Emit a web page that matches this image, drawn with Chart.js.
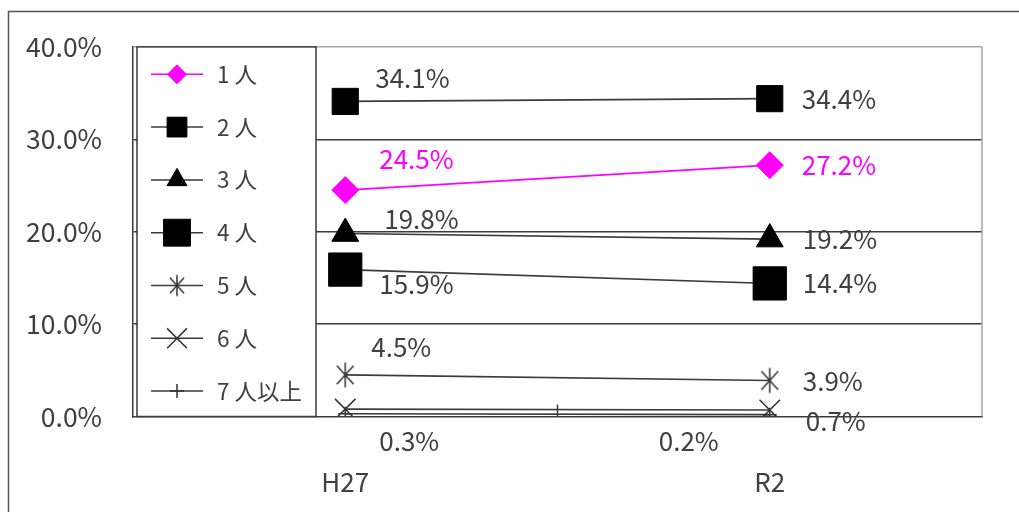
<!DOCTYPE html>
<html><head><meta charset="utf-8">
<script src="https://cdn.jsdelivr.net/npm/chart.js@4.4.1/dist/chart.umd.min.js"></script>
<style>html,body{margin:0;padding:0;background:#fff;overflow:hidden}#wrap{width:1019px;height:512px;position:relative}</style>
</head><body><div id="wrap"><canvas id="c"></canvas></div>
<script>
// ---- data ----
const categories = ['H27', 'R2'];
const seriesNames = ['1 人', '2 人', '3 人', '4 人', '5 人', '6 人', '7 人以上'];
const s1 = [24.5, 27.2];
const s2 = [34.1, 34.4];
const s3 = [19.8, 19.2];
const s4 = [15.9, 14.4];
const s5 = [4.5, 3.9];
const s6 = [0.8, 0.7];
const s7 = [0.3, 0.2];
const yMin = 0, yMax = 40, yStep = 10;

// ---- styles ----
const FONT = "'Noto Sans CJK JP','Noto Sans',sans-serif";
const TXT = '#404040';
const LINE = '#3a3a3a';
const MAG = '#FF00FF';
// label offsets (dx, dy) relative to each point; null = hidden
const labelOffsets = [
  [[34, -31], [32, 0]],
  [[30, -23], [32, 0]],
  [[39, -14], [33, 0]],
  [[34, 15], [33, 0]],
  [[26, -28], [33, 1]],
  [null, [36, 11]],
  [[34, 27], [-111, 26]]
];

function makeAsterisk(r, color, lw) {
  const s = Math.ceil(2 * r + lw * 2);
  const c = document.createElement('canvas');
  c.width = s; c.height = s;
  const g = c.getContext('2d');
  g.strokeStyle = color; g.lineWidth = lw;
  const cx = s / 2, cy = s / 2;
  const a = 42 * Math.PI / 180, dx = Math.sin(a) * r, dy = Math.cos(a) * r;
  g.beginPath();
  g.moveTo(cx, cy - r); g.lineTo(cx, cy + r);
  g.moveTo(cx - dx, cy - dy); g.lineTo(cx + dx, cy + dy);
  g.moveTo(cx + dx, cy - dy); g.lineTo(cx - dx, cy + dy);
  g.stroke();
  return c;
}
const asteriskBig = makeAsterisk(12.5, '#333', 1.5);
const asteriskSmall = makeAsterisk(10.5, '#333', 1.5);

const values = [s1, s2, s3, s4, s5, s6, s7];
const styles = [
  { color: MAG, fill: MAG, pointStyle: 'rectRot', r: 13.5, lr: 9.5, bw: 1 },
  { color: LINE, fill: '#000', pointStyle: 'rect', r: 18.5, lr: 14, bw: 1 },
  { color: LINE, fill: '#000', pointStyle: 'triangle', r: 15.5, lr: 11.5, bw: 1 },
  { color: LINE, fill: '#000', pointStyle: 'rect', r: 23.5, lr: 19, bw: 1 },
  { color: LINE, fill: '#333', pointStyle: asteriskBig, legendStyle: asteriskSmall, r: 12.5, lr: 10, bw: 1.5 },
  { color: LINE, fill: '#333', pointStyle: 'crossRot', r: 14.5, lr: 14, bw: 1.5 },
  { color: LINE, fill: '#333', pointStyle: 'cross', r: 7, lr: 7, bw: 1.5 }
];
const labelColors = [MAG, TXT, TXT, TXT, TXT, TXT, TXT];

const datasets = values.map((v, i) => ({
  label: seriesNames[i],
  data: v,
  borderColor: styles[i].color,
  backgroundColor: styles[i].fill,
  borderWidth: 1.6,
  pointStyle: styles[i].pointStyle,
  pointRadius: styles[i].r,
  pointBorderColor: styles[i].fill,
  pointBackgroundColor: styles[i].fill,
  pointBorderWidth: styles[i].bw,
  tension: 0
}));

const framePlugin = {
  id: 'frame',
  beforeDraw(chart) {
    const ctx = chart.ctx;
    ctx.save();
    ctx.strokeStyle = '#555'; ctx.lineWidth = 1.5;
    ctx.beginPath();
    ctx.moveTo(8.5, chart.height + 5); ctx.lineTo(8.5, 11.5); ctx.lineTo(chart.width + 5, 11.5);
    ctx.stroke();
    ctx.restore();
  },
  beforeDatasetsDraw(chart) {
    const { ctx, chartArea: a } = chart;
    ctx.save();
    ctx.strokeStyle = '#a6a6a6'; ctx.lineWidth = 1.5;
    ctx.beginPath(); ctx.moveTo(a.right, a.top); ctx.lineTo(a.right, a.bottom); ctx.stroke();
    // middle tick on category axis (inside)
    const xs = chart.scales.x;
    const mid = (xs.getPixelForValue(0) + xs.getPixelForValue(1)) / 2;
    ctx.strokeStyle = LINE;
    ctx.beginPath(); ctx.moveTo(mid, a.bottom); ctx.lineTo(mid, a.bottom - 12); ctx.stroke();
    ctx.restore();
  }
};

const labelPlugin = {
  id: 'labels',
  afterDatasetsDraw(chart) {
    const ctx = chart.ctx;
    ctx.save();
    ctx.font = '26px ' + FONT;
    ctx.textAlign = 'left'; ctx.textBaseline = 'middle';
    chart.data.datasets.forEach((ds, i) => {
      const meta = chart.getDatasetMeta(i);
      meta.data.forEach((pt, j) => {
        const off = labelOffsets[i][j];
        if (!off) return;
        ctx.fillStyle = labelColors[i];
        ctx.fillText(ds.data[j].toFixed(1) + '%', pt.x + off[0], pt.y + off[1]);
      });
    });
    ctx.restore();
  }
};

const legendPlugin = {
  id: 'boxLegend',
  afterDraw(chart) {
    const { ctx, chartArea: a } = chart;
    const left = a.left + 4, right = 316, top = a.top, bottom = a.bottom;
    ctx.save();
    ctx.fillStyle = '#fff';
    ctx.fillRect(left, top, right - left, bottom - top);
    ctx.strokeStyle = LINE; ctx.lineWidth = 1.5;
    ctx.strokeRect(left, top, right - left, bottom - top);
    const rowH = (bottom - top) / 7;
    chart.data.datasets.forEach((ds, i) => {
      const y = top + rowH * (i + 0.5) + 1;
      ctx.strokeStyle = ds.borderColor; ctx.lineWidth = 1.5;
      ctx.beginPath(); ctx.moveTo(151, y); ctx.lineTo(203, y); ctx.stroke();
      ctx.fillStyle = styles[i].fill; ctx.strokeStyle = styles[i].fill;
      ctx.lineWidth = styles[i].bw;
      Chart.helpers.drawPoint(ctx, {
        pointStyle: styles[i].legendStyle || styles[i].pointStyle,
        radius: styles[i].lr, borderWidth: styles[i].bw, rotation: 0
      }, 177, y);
      ctx.fillStyle = TXT;
      ctx.font = '22.5px ' + FONT;
      ctx.textAlign = 'left'; ctx.textBaseline = 'middle';
      ctx.fillText(ds.label, 217, y);
    });
    ctx.restore();
  }
};

new Chart(document.getElementById('c'), {
  type: 'line',
  data: { labels: categories, datasets },
  plugins: [framePlugin, labelPlugin, legendPlugin],
  options: {
    responsive: true, maintainAspectRatio: false, animation: false,
    layout: { padding: { top: 45, right: 37, left: 0, bottom: 0 } },
    plugins: { legend: { display: false }, tooltip: { enabled: false } },
    scales: {
      x: {
        offset: true,
        grid: { display: false, drawTicks: false },
        border: { display: true, color: LINE, width: 1.5 },
        ticks: { color: TXT, font: { size: 26, family: FONT }, padding: 50 },
        afterFit(s) { s.height = 95.5; }
      },
      y: {
        min: yMin, max: yMax,
        ticks: { stepSize: yStep, color: TXT, font: { size: 26.5, family: FONT }, padding: 31,
                 callback: v => v.toFixed(1) + '%' },
        grid: { drawTicks: false, lineWidth: 1.5,
                color: c => c.tick.value === yMax ? '#a6a6a6' : (c.tick.value === yMin ? 'rgba(0,0,0,0)' : LINE) },
        border: { color: LINE, width: 1.5 },
        afterFit(s) { s.width = 133; }
      }
    }
  }
});
</script>
</body></html>
